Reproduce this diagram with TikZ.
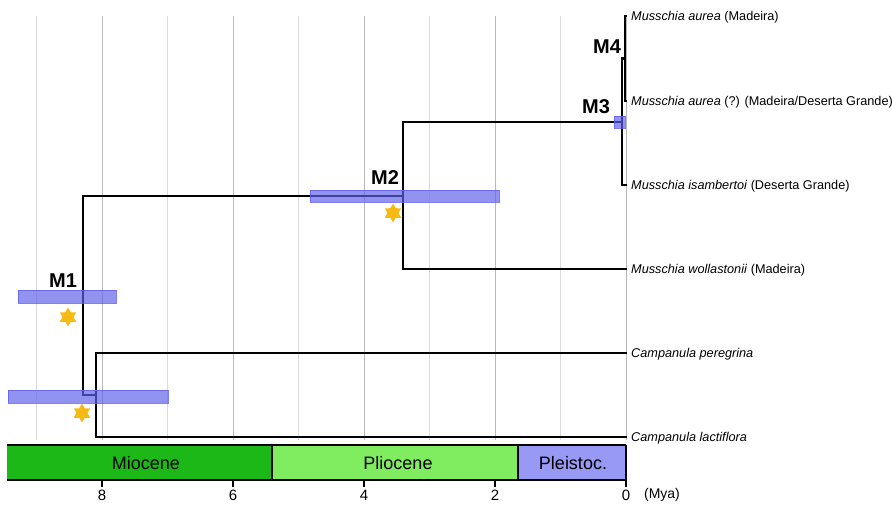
\documentclass[tikz,border=0pt]{standalone}
\usepackage{fontspec}
\setmainfont{Liberation Sans}
\usetikzlibrary{shapes.geometric}
\definecolor{mioc}{RGB}{28,184,24}
\definecolor{plioc}{RGB}{128,236,96}
\definecolor{pleis}{RGB}{152,152,245}
\definecolor{barblue}{RGB}{95,95,235}
\definecolor{stargold}{RGB}{247,186,20}
\begin{document}
\begin{tikzpicture}[x=1pt,y=-1pt,
  tree/.style={line width=2.2pt, black, line cap=rect},
  gridl/.style={gray!28, line width=0.9pt},
  gridd/.style={gray!55, line width=0.9pt},
  hpd/.style={fill=barblue, fill opacity=0.68, draw=barblue, draw opacity=0.8, line width=0.4pt},
  taxon/.style={anchor=west, inner sep=0pt, font=\fontsize{12.7}{14}\selectfont},
  mlab/.style={inner sep=0pt, font=\fontsize{20}{22}\selectfont\bfseries},
  epochlab/.style={inner sep=0pt, font=\fontsize{18}{20}\selectfont},
  ticklab/.style={inner sep=0pt, font=\fontsize{15}{17}\selectfont},
  starmark/.style={star, star points=6, star point ratio=1.73, fill=stargold, minimum size=19pt, inner sep=0pt},
  frame/.style={line width=2pt, black}
]
\useasboundingbox (0,0) rectangle (892,504);
% grid lines, one per million years
\foreach \k in {1,3,5,7,9} \draw[gridl] (626-65.5*\k,16) -- (626-65.5*\k,440);
\foreach \k in {0,2,4,6,8} \draw[gridd] (626-65.5*\k,16) -- (626-65.5*\k,440);

% leaves
\coordinate (t1) at (626,16);
\coordinate (t2) at (626,101);
\coordinate (t3) at (626,185);
\coordinate (t4) at (626,269);
\coordinate (t5) at (626,353);
\coordinate (t6) at (626,437);
% internal nodes
\coordinate (m4) at (625,58.5);
\coordinate (m3) at (622,122);
\coordinate (m2) at (403,196);
\coordinate (mc) at (96,395);
\coordinate (m1) at (83,296);

% tree
\draw[tree] (t1) -| (m4) |- (t2);
\draw[tree] (m4) -| (m3) |- (t3);
\draw[tree] (m3) -| (m2) |- (t4);
\draw[tree] (t5) -| (mc) |- (t6);
\draw[tree] (m2) -| (m1) |- (mc);

% age bars
\draw[hpd] (18,290) rectangle (116,303);
\draw[hpd] (8,390) rectangle (168,403);
\draw[hpd] (310,190) rectangle (499,202);
\draw[hpd] (614,116) rectangle (625,128);

% stars
\node[starmark] (s1) at (68,317) {};
\node[starmark] (s0) at (82,413) {};
\node[starmark] (s2) at (393,213) {};

% node labels
\node[mlab] (l1) at (63,281) {M1};
\node[mlab] (l2) at (385,178) {M2};
\node[mlab] (l3) at (596,107) {M3};
\node[mlab] (l4) at (607,47) {M4};

% taxa
\node[taxon] (n1) at (631,17) {\textit{Musschia aurea} (Madeira)};
\node[taxon] (n2) at (631,102) {\textit{Musschia aurea} (?) (Madeira/Deserta Grande)};
\node[taxon] (n3) at (631,186) {\textit{Musschia isambertoi} (Deserta Grande)};
\node[taxon] (n4) at (631,270) {\textit{Musschia wollastonii} (Madeira)};
\node[taxon] (n5) at (631,354) {\textit{Campanula peregrina}};
\node[taxon] (n6) at (631,438) {\textit{Campanula lactiflora}};

% epoch bar
\fill[mioc] (7,445) rectangle (272,480);
\fill[plioc] (272,445) rectangle (518,480);
\fill[pleis] (518,445) rectangle (626,480);
\draw[frame] (7,445) -- (626,445);
\draw[frame] (7,480) -- (626,480);
\draw[frame] (272,445) -- (272,480);
\draw[frame] (518,445) -- (518,480);
\draw[frame] (626,445) -- (626,480);
\node[epochlab] (e1) at (146,463) {Miocene};
\node[epochlab] (e2) at (398,463) {Pliocene};
\node[epochlab] (e3) at (573,463) {Pleistoc.};

% axis ticks
\foreach \a/\x in {8/102,6/233,4/364,2/495,0/626} {
  \draw[line width=1.2pt] (\x,480) -- (\x,487);
  \node[ticklab] (tick\a) at (\x,495) {\a};
}
\node[inner sep=0pt, font=\fontsize{14}{16}\selectfont] (mya) at (662,495) {(Mya)};
\end{tikzpicture}
\end{document}
